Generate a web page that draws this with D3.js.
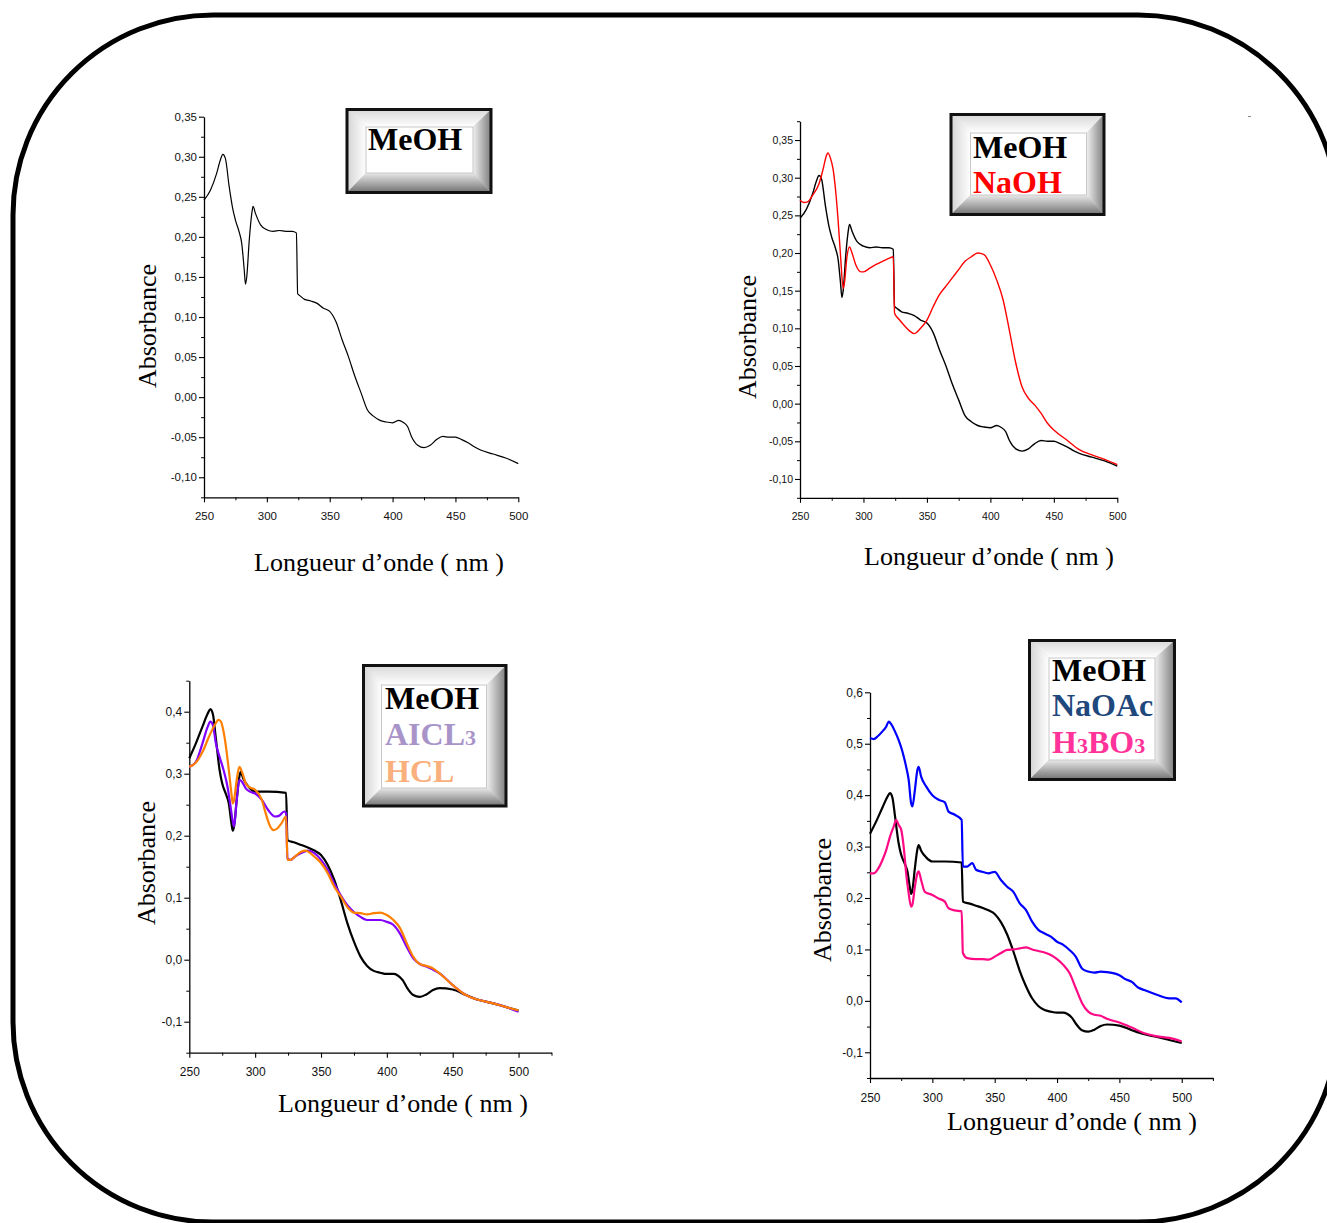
<!DOCTYPE html>
<html><head><meta charset="utf-8">
<script src="https://cdn.jsdelivr.net/npm/d3@7"></script>
<style>
html,body{margin:0;padding:0;background:#fff;}
svg{display:block;}
</style></head>
<body>
<script>
// ---------- DATA ----------
// MeOH spectrum (top panels)
const meohX1 = [250,255,260,263,265,267,270,273,275,278,280,282,283,284,286,288,289,291,295,300,305,310,315,320,323.5,324.5,326,330,335,340,345,350,355,360,365,370,375,380,385,390,395,400,405,408,412,415,420,425,430,435,440,445,450,455,460,465,470,480,490,500];
const meohY1 = [0.246,0.258,0.279,0.296,0.303,0.298,0.263,0.234,0.221,0.206,0.192,0.159,0.141,0.150,0.196,0.229,0.238,0.229,0.215,0.209,0.207,0.208,0.207,0.207,0.205,0.129,0.127,0.122,0.120,0.117,0.111,0.107,0.094,0.071,0.050,0.026,0.005,-0.016,-0.024,-0.029,-0.031,-0.032,-0.029,-0.031,-0.037,-0.049,-0.060,-0.063,-0.060,-0.053,-0.049,-0.050,-0.050,-0.053,-0.057,-0.062,-0.066,-0.071,-0.076,-0.083];
// NaOH
const naohX = [250,253,256,260,265,268,271,272,274,276,278,280,282,284,285,287,289,291,294,298,300,305,310,315,320,323.5,324.5,328,332,336,340,345,350,355,360,365,370,375,380,385,390,395,400,405,410,415,420,425,430,435,440,445,450,460,470,480,490,500];
const naohY = [0.270,0.267,0.268,0.277,0.292,0.310,0.330,0.333,0.326,0.312,0.284,0.244,0.195,0.153,0.160,0.195,0.208,0.200,0.184,0.175,0.175,0.180,0.185,0.189,0.193,0.195,0.120,0.112,0.104,0.097,0.093,0.100,0.111,0.129,0.145,0.156,0.167,0.178,0.189,0.195,0.200,0.198,0.184,0.164,0.138,0.097,0.054,0.022,0.007,-0.002,-0.013,-0.026,-0.035,-0.048,-0.061,-0.068,-0.074,-0.081];
// MeOH spectrum (bottom panels)
const meohX2 = [250,255,260,264,266,268,270,273,275,278,280,282,283,284,286,288,289,291,295,300,310,323.5,324.5,330,335,340,345,350,355,360,365,370,375,380,385,390,395,400,405,408,412,415,420,425,430,435,440,450,460,470,480,490,500];
const meohY2 = [0.325,0.349,0.376,0.397,0.404,0.395,0.360,0.306,0.284,0.266,0.252,0.220,0.208,0.215,0.258,0.295,0.303,0.292,0.279,0.271,0.271,0.269,0.193,0.189,0.185,0.181,0.176,0.169,0.153,0.129,0.096,0.059,0.029,0.005,-0.010,-0.018,-0.021,-0.023,-0.023,-0.025,-0.033,-0.044,-0.057,-0.060,-0.056,-0.049,-0.046,-0.048,-0.057,-0.065,-0.070,-0.076,-0.082];
// AlCl3
const alclX = [250,255,260,264,266,268,270,273,276,279,281,283,284,286,288,290,293,296,300,305,310,315,318,322,323.5,324.5,327,330,335,340,345,350,355,360,365,370,375,380,385,390,395,400,405,410,415,420,425,430,435,440,450,460,470,480,490,500];
const alclY = [0.311,0.319,0.349,0.376,0.384,0.378,0.351,0.327,0.306,0.279,0.252,0.223,0.215,0.258,0.290,0.287,0.276,0.271,0.268,0.258,0.241,0.231,0.232,0.239,0.236,0.163,0.161,0.166,0.172,0.176,0.172,0.161,0.145,0.123,0.104,0.088,0.077,0.069,0.064,0.064,0.064,0.061,0.056,0.042,0.021,0.002,-0.007,-0.011,-0.016,-0.022,-0.041,-0.057,-0.065,-0.070,-0.076,-0.084];
// HCl
const hclX = [250,255,260,265,270,272,274,276,278,280,282,283,284,286,288,290,293,296,300,305,308,311,314,317,320,323.5,324.5,327,330,335,338,342,345,350,355,360,365,370,375,380,385,390,395,400,405,410,415,420,425,430,435,440,450,460,470,480,490,500];
const hclY = [0.311,0.318,0.335,0.360,0.381,0.387,0.384,0.368,0.341,0.306,0.268,0.252,0.258,0.290,0.311,0.303,0.284,0.278,0.274,0.258,0.236,0.217,0.209,0.212,0.220,0.231,0.161,0.161,0.166,0.174,0.176,0.172,0.166,0.156,0.140,0.118,0.102,0.085,0.076,0.075,0.073,0.075,0.076,0.072,0.064,0.051,0.027,0.005,-0.007,-0.010,-0.014,-0.022,-0.041,-0.057,-0.065,-0.070,-0.076,-0.082];
// NaOAc
const naoacX = [250,253,256,260,263,265,267,270,273,276,279,281,283,284,286,288,289,291,295,300,305,310,313,318,323.5,324.5,328,332,335,340,345,350,355,360,365,370,375,380,385,390,395,400,405,410,415,420,425,430,435,440,445,450,455,460,465,470,480,490,495,500];
const naoacY = [0.511,0.509,0.514,0.524,0.533,0.543,0.538,0.524,0.507,0.485,0.455,0.430,0.384,0.378,0.410,0.449,0.455,0.436,0.417,0.400,0.391,0.386,0.368,0.362,0.352,0.261,0.261,0.268,0.255,0.251,0.248,0.251,0.235,0.222,0.212,0.190,0.177,0.154,0.138,0.131,0.125,0.115,0.109,0.099,0.086,0.063,0.057,0.055,0.057,0.056,0.054,0.050,0.042,0.037,0.026,0.021,0.012,0.005,0.005,-0.003];
// H3BO3
const boricX = [250,253,256,260,263,266,269,271,273,275,277,279,281,283,284,286,288,289,291,294,300,305,310,313,318,323.5,324.5,328,335,340,345,350,355,360,365,370,375,380,385,390,395,400,405,410,415,420,425,430,435,440,450,460,470,480,490,500];
const boricY = [0.248,0.248,0.255,0.274,0.293,0.319,0.339,0.352,0.342,0.333,0.300,0.248,0.209,0.183,0.187,0.222,0.248,0.252,0.235,0.212,0.206,0.199,0.193,0.180,0.176,0.174,0.093,0.083,0.081,0.081,0.080,0.086,0.093,0.099,0.100,0.102,0.104,0.100,0.097,0.094,0.089,0.081,0.070,0.054,0.025,-0.004,-0.021,-0.027,-0.029,-0.035,-0.042,-0.052,-0.063,-0.069,-0.072,-0.079];

// tick labels
const xTicks = [250,300,350,400,450,500];
const yTicksTop = [-0.10,-0.05,0.00,0.05,0.10,0.15,0.20,0.25,0.30,0.35];
const yTicks3 = [-0.1,0.0,0.1,0.2,0.3,0.4];
const yTicks4 = [-0.1,0.0,0.1,0.2,0.3,0.4,0.5,0.6];

// ---------- DRAW ----------
const W = 1327, H = 1223;
const svg = d3.select("body").append("svg").attr("width", W).attr("height", H);
const serif = "'Liberation Serif','Times New Roman',Times,serif";
const sans = "'Liberation Sans',Arial,Helvetica,sans-serif";

// gradients for bevel frames
const defs = svg.append("defs");
function grad(id, x1, y1, x2, y2, c1, c2) {
  const g = defs.append("linearGradient").attr("id", id)
    .attr("x1", x1).attr("y1", y1).attr("x2", x2).attr("y2", y2);
  g.append("stop").attr("offset", "0%").attr("stop-color", c1);
  g.append("stop").attr("offset", "100%").attr("stop-color", c2);
}
grad("bvTop", 0, 0, 0, 1, "#d8d8d8", "#ffffff");
grad("bvLeft", 0, 0, 1, 0, "#d4d4d4", "#ffffff");
grad("bvRight", 1, 0, 0, 0, "#7e7e7e", "#f0f0f0");
grad("bvBottom", 0, 1, 0, 0, "#727272", "#e8e8e8");

// outer rounded frame
svg.append("rect").attr("x", 13).attr("y", 15).attr("width", 1325).attr("height", 1207)
  .attr("rx", 200).attr("ry", 200).attr("fill", "none").attr("stroke", "#000").attr("stroke-width", 5);
svg.append("rect").attr("x", 1248).attr("y", 116).attr("width", 3).attr("height", 1).attr("fill", "#888");

const fmt2 = v => d3.format(".2f")(v).replace(".", ",").replace("−", "-");
const fmt1 = v => d3.format(".1f")(v).replace(".", ",").replace("−", "-");

function panel(p) {
  const g = svg.append("g");
  const x = d3.scaleLinear().domain(p.xDom).range(p.xRange);
  const y = d3.scaleLinear().domain(p.yDom).range(p.yRange);
  const y0 = p.yRange[0], x0 = p.xRange[0];

  // minor ticks
  const xMinor = d3.range(275, p.xDom[1] + 1, 50);
  g.append("g").attr("transform", `translate(0,${y0})`)
    .call(d3.axisBottom(x).tickValues(xMinor).tickSize(3).tickFormat(""))
    .call(s => s.select(".domain").remove())
    .call(s => s.selectAll("line").attr("stroke-width", 1));
  const yMinor = [];
  for (let i = 0; i < p.yTicks.length; i++) {
    const v = p.yTicks[i] - p.yStep / 2;
    if (v >= p.yDom[0] - 1e-9) yMinor.push(v);
  }
  const last = p.yTicks[p.yTicks.length - 1] + p.yStep / 2;
  if (last <= p.yDom[1] + 1e-9) yMinor.push(last);
  g.append("g").attr("transform", `translate(${x0},0)`)
    .call(d3.axisLeft(y).tickValues(yMinor).tickSize(3).tickFormat(""))
    .call(s => s.select(".domain").remove())
    .call(s => s.selectAll("line").attr("stroke-width", 1));

  // major axes
  const xa = g.append("g").attr("transform", `translate(0,${y0})`)
    .call(d3.axisBottom(x).tickValues(xTicks).tickSize(5).tickPadding(10).tickSizeOuter(0).tickFormat(d3.format("d")));
  const ya = g.append("g").attr("transform", `translate(${x0},0)`)
    .call(d3.axisLeft(y).tickValues(p.yTicks).tickSize(5).tickPadding(2).tickSizeOuter(0).tickFormat(p.fmt));
  [xa, ya].forEach(a => {
    a.select(".domain").attr("stroke-width", 1.3);
    a.selectAll("line").attr("stroke-width", 1.1);
    a.selectAll("text").attr("font-family", sans).attr("font-size", p.tickFont).attr("fill", "#111");
  });

  // curves
  const line = d3.line().x(d => x(d[0])).y(d => y(d[1])).curve(d3.curveMonotoneX);
  p.series.forEach(s => {
    const pts = s.xs.map((v, i) => [v, s.ys[i]]);
    g.append("path").datum(pts).attr("d", line).attr("fill", "none")
      .attr("stroke", s.color).attr("stroke-width", p.lw).attr("stroke-linejoin", "round");
  });

  // axis titles
  g.append("text").attr("transform", `translate(${p.ylab[0]},${p.ylab[1]}) rotate(-90)`)
    .attr("text-anchor", "middle").attr("font-family", serif).attr("font-size", 26)
    .text("Absorbance");
  g.append("text").attr("x", p.xlab[0]).attr("y", p.xlab[1])
    .attr("text-anchor", "middle").attr("font-family", serif).attr("font-size", 26)
    .text("Longueur d’onde ( nm )");

  // legend box
  const b = p.box, ib = p.inner;
  const lg = svg.append("g");
  lg.append("rect").attr("x", b[0]).attr("y", b[1]).attr("width", b[2] - b[0]).attr("height", b[3] - b[1]).attr("fill", "#ccc");
  const poly = (pts, f) => lg.append("polygon").attr("points", pts.map(q => q.join(",")).join(" ")).attr("fill", f);
  poly([[b[0], b[1]], [b[2], b[1]], [ib[2], ib[1]], [ib[0], ib[1]]], "url(#bvTop)");
  poly([[b[0], b[1]], [ib[0], ib[1]], [ib[0], ib[3]], [b[0], b[3]]], "url(#bvLeft)");
  poly([[b[2], b[1]], [b[2], b[3]], [ib[2], ib[3]], [ib[2], ib[1]]], "url(#bvRight)");
  poly([[b[0], b[3]], [ib[0], ib[3]], [ib[2], ib[3]], [b[2], b[3]]], "url(#bvBottom)");
  lg.append("rect").attr("x", ib[0]).attr("y", ib[1]).attr("width", ib[2] - ib[0]).attr("height", ib[3] - ib[1])
    .attr("fill", "#fff").attr("stroke", "#c8c8c8").attr("stroke-width", 1);
  lg.append("rect").attr("x", b[0]).attr("y", b[1]).attr("width", b[2] - b[0]).attr("height", b[3] - b[1])
    .attr("fill", "none").attr("stroke", "#111").attr("stroke-width", 3);
  p.legend.forEach(L => {
    const t = lg.append("text").attr("x", L.x).attr("y", L.y).attr("font-family", serif)
      .attr("font-weight", "bold").attr("font-size", 32).attr("fill", L.color);
    L.parts.forEach(pt => {
      const ts = t.append("tspan").text(pt[0]);
      if (pt[1]) ts.attr("font-size", 22);
    });
  });
}

// Panel 1
panel({
  xDom: [250, 500], xRange: [204, 518.3],
  yDom: [-0.125, 0.35], yRange: [497.3, 116.7],
  yTicks: yTicksTop, yStep: 0.05, fmt: fmt2, tickFont: 11.5, lw: 1.2,
  series: [{ xs: meohX1, ys: meohY1, color: "#000" }],
  ylab: [156, 326], xlab: [379, 571],
  box: [347, 109.5, 491, 192.5], inner: [366, 127, 473, 173],
  legend: [{ x: 368, y: 150, color: "#000", parts: [["MeOH"]] }]
});
// Panel 2
panel({
  xDom: [250, 500], xRange: [800, 1117.3],
  yDom: [-0.125, 0.375], yRange: [497.8, 121.2],
  yTicks: yTicksTop, yStep: 0.05, fmt: fmt2, tickFont: 10.5, lw: 1.4,
  series: [{ xs: meohX1, ys: meohY1, color: "#000" }, { xs: naohX, ys: naohY, color: "#ff0000" }],
  ylab: [756, 337], xlab: [989, 565],
  box: [951, 114.5, 1104, 214.5], inner: [970.5, 133, 1086.5, 195],
  legend: [{ x: 973, y: 157.5, color: "#000", parts: [["MeOH"]] },
           { x: 973, y: 192.5, color: "#ff0000", parts: [["NaOH"]] }]
});
// Panel 3
panel({
  xDom: [250, 525], xRange: [189.3, 551.5],
  yDom: [-0.15, 0.45], yRange: [1052.7, 680.7],
  yTicks: yTicks3, yStep: 0.1, fmt: fmt1, tickFont: 12, lw: 2.2,
  series: [{ xs: meohX2, ys: meohY2, color: "#000" },
           { xs: alclX, ys: alclY, color: "#8000ff" },
           { xs: hclX, ys: hclY, color: "#ff8000" }],
  ylab: [155, 863], xlab: [403, 1112],
  box: [363.5, 665.5, 506, 806], inner: [381.5, 685, 486.5, 788],
  legend: [{ x: 385, y: 708.5, color: "#000", parts: [["MeOH"]] },
           { x: 385, y: 745, color: "#a894c8", parts: [["AICL"], ["3", true]] },
           { x: 385, y: 782, color: "#f9b07c", parts: [["HCL"]] }]
});
// Panel 4
panel({
  xDom: [250, 525], xRange: [870, 1212.9],
  yDom: [-0.15, 0.6], yRange: [1078, 692.3],
  yTicks: yTicks4, yStep: 0.1, fmt: fmt1, tickFont: 12, lw: 2.2,
  series: [{ xs: meohX2, ys: meohY2, color: "#000" },
           { xs: naoacX, ys: naoacY, color: "#0000ff" },
           { xs: boricX, ys: boricY, color: "#ff0a85" }],
  ylab: [831, 900], xlab: [1072, 1130],
  box: [1029.5, 640.5, 1174.5, 779.5], inner: [1049, 658, 1155, 760],
  legend: [{ x: 1052, y: 681, color: "#000", parts: [["MeOH"]] },
           { x: 1052, y: 716, color: "#1f497d", parts: [["NaOAc"]] },
           { x: 1052, y: 753, color: "#ff3399", parts: [["H"], ["3", true], ["BO"], ["3", true]] }]
});
</script>
</body></html>
